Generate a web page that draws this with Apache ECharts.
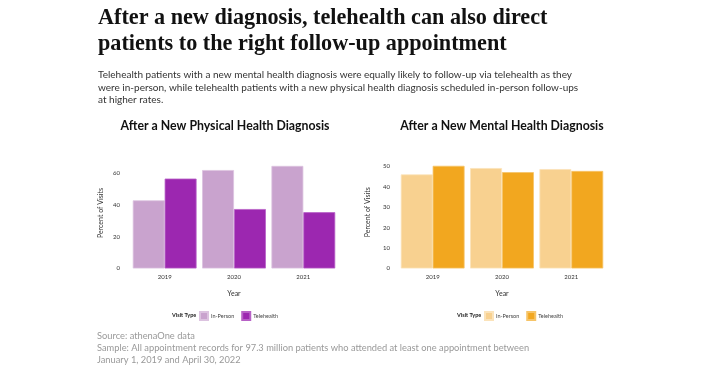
<!DOCTYPE html>
<html><head><meta charset="utf-8">
<script src="https://cdn.jsdelivr.net/npm/echarts@6/dist/echarts.min.js"></script>
<style>html,body{margin:0;padding:0;background:#fff}#c{width:712px;height:378px}</style>
</head><body><div id="c"></div>
<script>
const years = ['2019', '2020', '2021'];
const physInPerson = [43.0, 62.1, 64.7];
const physTelehealth = [56.7, 37.5, 35.5];
const mentInPerson = [46.0, 49.1, 48.6];
const mentTelehealth = [50.2, 47.1, 47.7];

const mainTitle = 'After a new diagnosis, telehealth can also direct\npatients to the right follow-up appointment';
const subTitle = 'Telehealth patients with a new mental health diagnosis were equally likely to follow-up via telehealth as they\nwere in-person, while telehealth patients with a new physical health diagnosis scheduled in-person follow-ups\nat higher rates.';
const footer = 'Source: athenaOne data\nSample: All appointment records for 97.3 million patients who attended at least one appointment between\nJanuary 1, 2019 and April 30, 2022';

const SANS = 'Lato';
const chart = echarts.init(document.getElementById('c'), null, {renderer: 'canvas'});

function yAxis(idx, max, interval, gap, margin) {
  return {
    gridIndex: idx, type: 'value', min: 0, max: max, interval: interval,
    name: 'Percent of Visits', nameLocation: 'middle', nameGap: gap,
    nameTextStyle: {fontFamily: SANS, fontSize: 7, color: '#333'},
    axisLabel: {fontFamily: SANS, fontSize: 6, color: '#333', margin: margin, showMaxLabel: false},
    axisLine: {show: false}, axisTick: {show: false}, splitLine: {show: false}
  };
}
function xAxis(idx) {
  return {
    gridIndex: idx, type: 'category', data: years,
    name: 'Year', nameLocation: 'middle', nameGap: 22,
    nameTextStyle: {fontFamily: SANS, fontSize: 7, color: '#333'},
    axisLabel: {fontFamily: SANS, fontSize: 6, color: '#333', margin: 6},
    axisLine: {show: false}, axisTick: {show: false}
  };
}
function bar(name, idx, data, color, edge) {
  return {
    type: 'bar', name: name, xAxisIndex: idx, yAxisIndex: idx, data: data,
    barGap: '0%', barCategoryGap: '8%',
    itemStyle: {color: color, borderColor: edge, borderWidth: 0.8},
    emphasis: {disabled: true}
  };
}
function legend(left, names, colors) {
  return {
    left: left, top: 311, padding: 0, itemWidth: 8, itemHeight: 8, itemGap: 7, icon: 'rect',
    data: names.map((n, i) => ({name: n, itemStyle: {color: colors[i]}})),
    formatter: n => n.split('|')[0],
    textStyle: {fontFamily: SANS, fontSize: 5.5, color: '#444', padding: [0, 0, 0, -2]},
    selectedMode: false
  };
}

chart.setOption({
  animation: false,
  title: [
    {text: mainTitle, left: 98, top: 5, padding: 0, textStyle: {fontFamily: 'Liberation Serif', fontWeight: 'bold', fontSize: 22.2, lineHeight: 26, color: '#111'}},
    {text: subTitle, left: 98, top: 69, padding: 0, textStyle: {fontFamily: SANS, fontWeight: 'normal', fontSize: 10, lineHeight: 12.3, color: '#333'}},
    {text: 'After a New Physical Health Diagnosis', left: 225, textAlign: 'center', top: 120, padding: 0, textStyle: {fontFamily: SANS, fontWeight: 'bold', fontSize: 12.3, color: '#111'}},
    {text: 'After a New Mental Health Diagnosis', left: 502, textAlign: 'center', top: 120, padding: 0, textStyle: {fontFamily: SANS, fontWeight: 'bold', fontSize: 12.3, color: '#111'}},
    {text: footer, left: 97, top: 330, padding: 0, textStyle: {fontFamily: SANS, fontWeight: 'normal', fontSize: 9.3, lineHeight: 12, color: '#999'}}
  ],
  graphic: [
    {type: 'text', left: 172, top: 312, style: {text: 'Visit Type', font: 'bold 5.5px Lato', fill: '#222'}},
    {type: 'text', left: 457, top: 312, style: {text: 'Visit Type', font: 'bold 5.5px Lato', fill: '#222'}}
  ],
  legend: [
    legend(199, ['In-Person|P', 'Telehealth|P'], ['#C9A3CE', '#9C27B0']),
    legend(484, ['In-Person|M', 'Telehealth|M'], ['#F8D190', '#F2A71F'])
  ],
  grid: [
    {left: 130, right: 374, top: 157.5, bottom: 109.5},
    {left: 398, right: 106, top: 156, bottom: 109.5}
  ],
  xAxis: [xAxis(0), xAxis(1)],
  yAxis: [yAxis(0, 70, 20, 26, 10), yAxis(1, 55, 10, 27, 8)],
  series: [
    bar('In-Person|P', 0, physInPerson, '#C9A3CE', '#DCC3E0'),
    bar('Telehealth|P', 0, physTelehealth, '#9C27B0', '#B761C6'),
    bar('In-Person|M', 1, mentInPerson, '#F8D190', '#FBE3BA'),
    bar('Telehealth|M', 1, mentTelehealth, '#F2A71F', '#F6C468')
  ]
});
</script></body></html>
